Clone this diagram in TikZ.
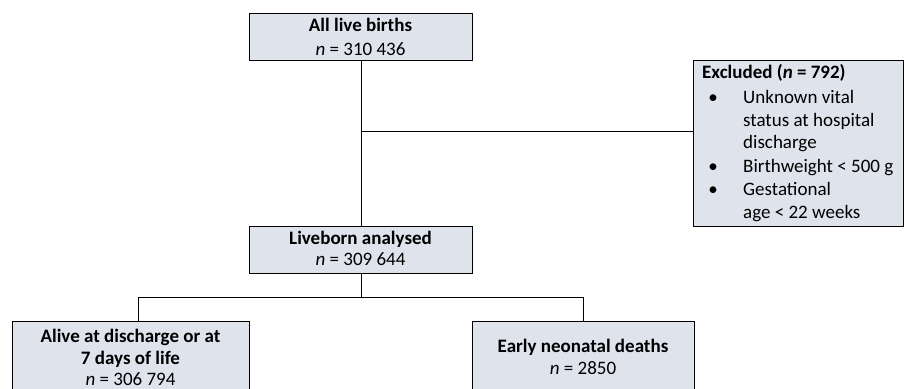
\documentclass[tikz,border=0pt]{standalone}
\usepackage{fontspec}
\setmainfont{Carlito}
\definecolor{boxfill}{RGB}{222,227,236}
\begin{document}
\begin{tikzpicture}[x=1pt,y=-1pt,
  box/.style={draw=black, line width=1pt, fill=boxfill, rectangle, inner sep=0pt, anchor=north west},
  txt/.style={anchor=base, inner sep=0pt, font=\fontsize{19}{22}\selectfont},
  ltxt/.style={anchor=base west, inner sep=0pt, font=\fontsize{19}{22}\selectfont},
  conn/.style={draw=black, line width=1pt}]
\useasboundingbox (0,0) rectangle (904,388);
% boxes
\node[box, minimum width=223, minimum height=47] (top) at (249,13) {};
\node[box, minimum width=210, minimum height=166] (excl) at (693,60) {};
\node[box, minimum width=223, minimum height=47] (live) at (249,226) {};
\node[box, minimum width=237, minimum height=79] (alive) at (12,321) {};
\node[box, minimum width=222, minimum height=79] (early) at (472,321) {};
% connectors
\coordinate (j1) at (top.south |- 0,131);
\coordinate (j2) at (live.south |- 0,297);
\coordinate (a1) at (138,297);
\coordinate (a2) at (583,297);
\draw[conn] (top.south) -- (live.north);
\draw[conn] (j1) -- (j1 -| excl.west);
\draw[conn] (live.south) -- (j2);
\draw[conn] (a1) -- (a2);
\draw[conn] (a1) -- (a1 |- alive.north);
\draw[conn] (a2) -- (a2 |- early.north);
% texts
\node[txt] (t1) at (360.5,31) {\textbf{All live births}};
\node[txt] (t2) at (360.5,55) {\textit{n} = 310 436};
\node[ltxt] (e0) at (702,78) {\textbf{Excluded (\textit{n} = 792)}};
\node[txt] (b1) at (713,103) {\textbullet};
\node[ltxt] (e1) at (743,103) {Unknown vital};
\node[ltxt] (e2) at (743,126) {status at hospital};
\node[ltxt] (e3) at (743,148) {discharge};
\node[txt] (b2) at (713,172) {\textbullet};
\node[ltxt] (e4) at (743,172) {Birthweight < 500 g};
\node[txt] (b3) at (713,195) {\textbullet};
\node[ltxt] (e5) at (743,195) {Gestational};
\node[ltxt] (e6) at (743,218) {age < 22 weeks};
\node[txt] (l1) at (360.5,244) {\textbf{Liveborn analysed}};
\node[txt] (l2) at (360.5,265) {\textit{n} = 309 644};
\node[txt] (a1t) at (130.5,342) {\textbf{Alive at discharge or at}};
\node[txt] (a2t) at (130.5,364) {\textbf{7 days of life}};
\node[txt] (a3t) at (130.5,385) {\textit{n} = 306 794};
\node[txt] (d1) at (583,352) {\textbf{Early neonatal deaths}};
\node[txt] (d2) at (583,374) {\textit{n} = 2850};
\end{tikzpicture}
\end{document}
